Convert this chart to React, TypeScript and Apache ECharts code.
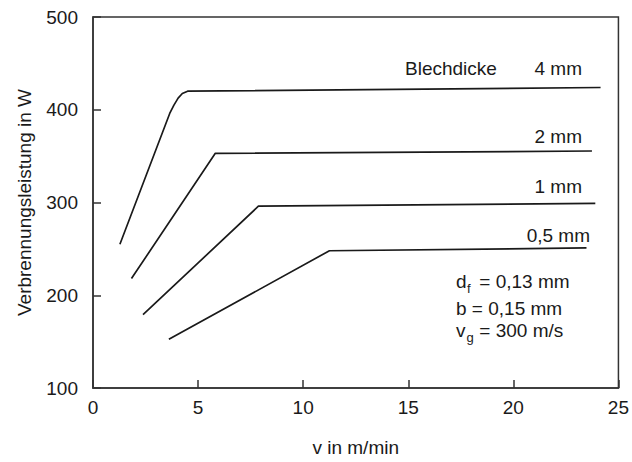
import React, { useEffect, useRef } from "react";
import * as echarts from "echarts";

const FONT = "'Liberation Sans', Arial, Helvetica, sans-serif";

// v in m/min, power in W
const s4mm: [number, number][] = [
  [1.28, 255], [3.65, 396], [3.85, 405], [4.05, 412.5], [4.25, 417.5], [4.5, 420], [24.15, 424],
];
const s2mm: [number, number][] = [
  [1.83, 218], [5.82, 353], [23.74, 355.5],
];
const s1mm: [number, number][] = [
  [2.38, 179], [7.87, 296], [23.9, 299],
];
const s05mm: [number, number][] = [
  [3.61, 152.5], [11.25, 248], [23.48, 251],
];

const xTicks = [0, 5, 10, 15, 20, 25];
const yTicks = [100, 200, 300, 400, 500];

const lineColor = "#1a1a1a";

export default function App() {
  const ref = useRef<HTMLDivElement>(null);
  useEffect(() => {
    if (!ref.current) return;
    const chart = echarts.init(ref.current, undefined, { renderer: "svg" });
    const mk = (name: string, data: [number, number][]) => ({
      name,
      type: "line",
      data,
      showSymbol: false,
      symbol: "none",
      lineStyle: { color: lineColor, width: 1.7 },
      z: 3,
    });
    const txt = (x: number, y: number, text: string, size = 19, align = "left") => ({
      type: "text",
      x,
      y,
      style: {
        text,
        fontFamily: FONT,
        fontSize: size,
        fill: "#1a1a1a",
        align,
        verticalAlign: "middle",
      },
    });
    chart.setOption({
      animation: false,
      backgroundColor: "#ffffff",
      grid: {
        left: 93,
        right: 12,
        top: 17,
        bottom: 74,
        show: true,
        borderColor: "#333",
        borderWidth: 1.5,
        backgroundColor: "transparent",
      },
      xAxis: {
        type: "value",
        min: xTicks[0],
        max: xTicks[xTicks.length - 1],
        interval: 5,
        name: "v in m/min",
        nameLocation: "middle",
        nameGap: 50,
        nameTextStyle: { fontFamily: FONT, fontSize: 19, color: "#1a1a1a" },
        axisLine: { lineStyle: { color: "#333", width: 1.5 } },
        axisTick: { inside: true, length: 8, lineStyle: { color: "#333", width: 1.5 } },
        axisLabel: { fontFamily: FONT, fontSize: 19, color: "#1a1a1a", margin: 10 },
        splitLine: { show: false },
      },
      yAxis: {
        type: "value",
        min: yTicks[0],
        max: yTicks[yTicks.length - 1],
        interval: 100,
        name: "Verbrennungsleistung in W",
        nameLocation: "middle",
        nameGap: 59,
        nameTextStyle: { fontFamily: FONT, fontSize: 19, color: "#1a1a1a" },
        axisLine: { lineStyle: { color: "#333", width: 1.5 } },
        axisTick: { inside: true, length: 8, lineStyle: { color: "#333", width: 1.5 } },
        axisLabel: { fontFamily: FONT, fontSize: 19, color: "#1a1a1a", margin: 15 },
        splitLine: { show: false },
      },
      series: [mk("4 mm", s4mm), mk("2 mm", s2mm), mk("1 mm", s1mm), mk("0,5 mm", s05mm)],
      graphic: [
        txt(405, 68, "Blechdicke"),
        txt(582, 68, "4 mm", 19, "right"),
        txt(582, 136, "2 mm", 19, "right"),
        txt(582, 186, "1 mm", 19, "right"),
        txt(590, 235, "0,5 mm", 19, "right"),
        txt(456, 281, "d"),
        txt(467, 288, "f", 13),
        txt(474, 281, " = 0,13 mm"),
        txt(456, 308, "b = 0,15 mm"),
        txt(456, 330, "v"),
        txt(466.5, 337, "g", 13),
        txt(474, 330, " = 300 m/s"),
      ],
    });
    return () => chart.dispose();
  }, []);
  return <div ref={ref} style={{ width: 632, height: 462, position: "absolute", left: 0, top: 0 }} />;
}
